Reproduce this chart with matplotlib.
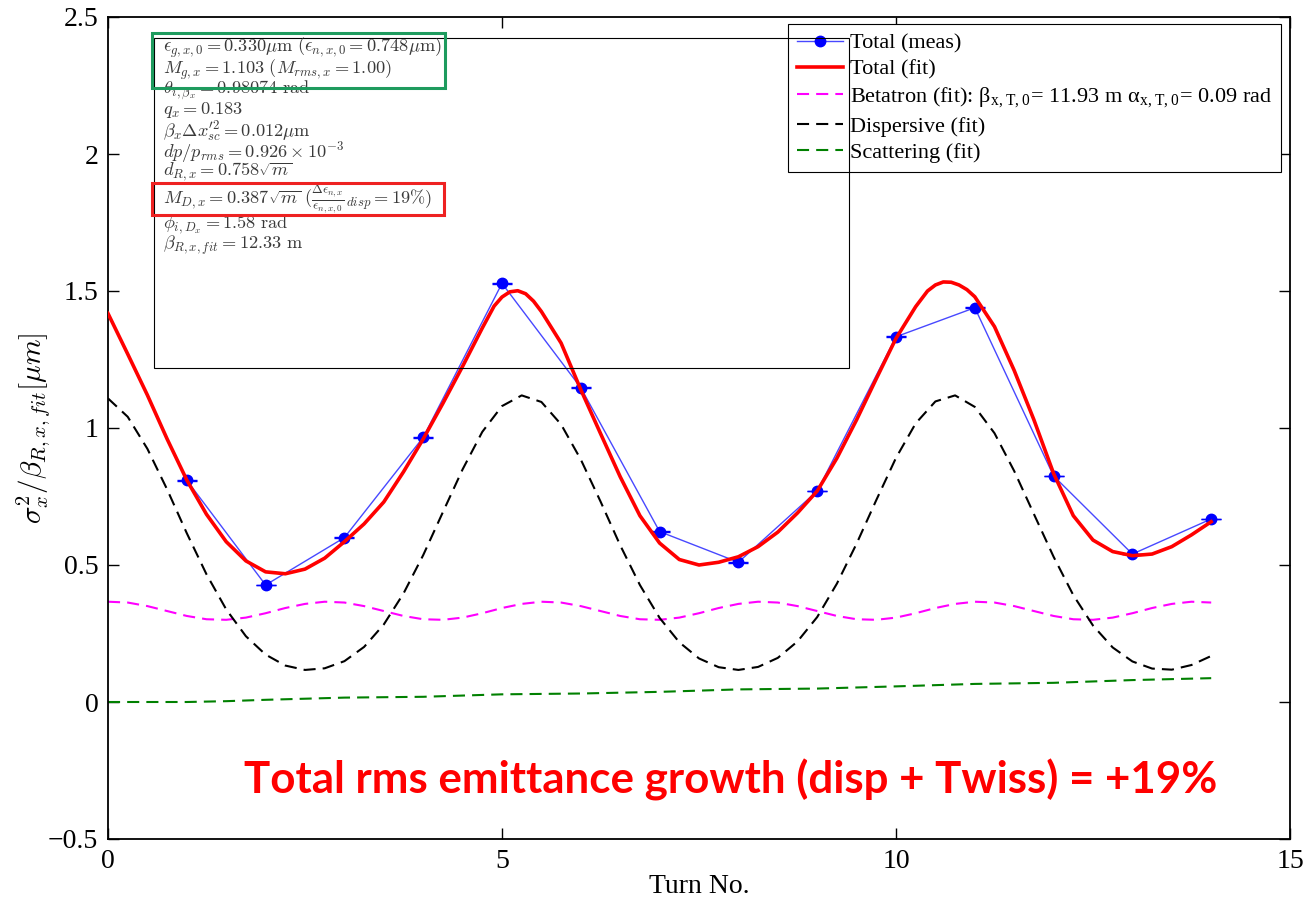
import matplotlib
matplotlib.use('Agg')
import matplotlib.pyplot as plt
import numpy as np
from matplotlib.patches import Rectangle

# measured points (turn, sigma^2/beta)
turn_meas = [1, 2, 3, 4, 5, 6, 7, 8, 9, 10, 11, 12, 13, 14]
sig_meas = [0.809, 0.427, 0.600, 0.966, 1.528, 1.147, 0.622, 0.510, 0.770,
            1.333, 1.439, 0.825, 0.540, 0.668]
err_meas = [0.0015, 0.0015, 0.0015, 0.0015, 0.0015, 0.0015, 0.0015, 0.0015,
            0.0015, 0.0015, 0.0015, 0.0015, 0.0015, 0.0015]

# total fit (denser around the extrema)
turn_total = [0, 0.25, 0.5, 0.75, 1.0, 1.25, 1.5, 1.75, 2.0, 2.25, 2.5, 2.75,
              3.0, 3.25, 3.5, 3.75, 4.0, 4.25, 4.5, 4.75, 4.9, 5.0, 5.1, 5.2,
              5.3, 5.4, 5.5, 5.75, 6.0, 6.25, 6.5, 6.75, 7.0, 7.25, 7.5, 7.75,
              8.0, 8.25, 8.5, 8.75, 9.0, 9.25, 9.5, 9.75, 10.0, 10.25, 10.4,
              10.5, 10.6, 10.7, 10.8, 10.9, 11.0, 11.25, 11.5, 11.75, 12.0,
              12.25, 12.5, 12.75, 13.0, 13.25, 13.5, 13.75, 14.0]
total_fit = [1.418, 1.27, 1.12, 0.96, 0.81, 0.685, 0.585, 0.515, 0.475, 0.468,
             0.485, 0.525, 0.585, 0.65, 0.73, 0.84, 0.96, 1.09, 1.225, 1.365,
             1.445, 1.478, 1.497, 1.501, 1.490, 1.463, 1.425, 1.31, 1.14, 0.98,
             0.822, 0.68, 0.58, 0.52, 0.50, 0.51, 0.53, 0.567, 0.62, 0.69,
             0.77, 0.89, 1.03, 1.18, 1.327, 1.443, 1.50, 1.522, 1.533, 1.532,
             1.522, 1.505, 1.479, 1.37, 1.21, 1.03, 0.834, 0.68, 0.591, 0.549,
             0.534, 0.540, 0.567, 0.61, 0.658]

# betatron and dispersive fits read every quarter turn, 0 .. 14
turn_fit = np.arange(0, 14.01, 0.25)
betatron_fit = [0.366, 0.363, 0.350, 0.332, 0.314, 0.302, 0.300, 0.308, 0.324, 0.343,
                0.358, 0.366, 0.363, 0.350, 0.332, 0.314, 0.302, 0.300, 0.308, 0.324,
                0.343, 0.358, 0.366, 0.363, 0.350, 0.332, 0.314, 0.302, 0.300, 0.308,
                0.324, 0.343, 0.358, 0.366, 0.363, 0.350, 0.332, 0.314, 0.302, 0.300,
                0.308, 0.324, 0.343, 0.358, 0.366, 0.363, 0.350, 0.332, 0.314, 0.302,
                0.300, 0.308, 0.324, 0.343, 0.358, 0.366, 0.363]
disp_fit = [1.108, 1.041, 0.924, 0.776, 0.616, 0.466, 0.338, 0.240, 0.173, 0.133,
            0.117, 0.123, 0.149, 0.201, 0.283, 0.396, 0.536, 0.693, 0.849, 0.986,
            1.080, 1.119, 1.095, 1.013, 0.885, 0.732, 0.572, 0.427, 0.307, 0.218,
            0.159, 0.127, 0.117, 0.128, 0.161, 0.221, 0.310, 0.432, 0.578, 0.737,
            0.891, 1.017, 1.097, 1.119, 1.077, 0.981, 0.843, 0.686, 0.530, 0.390,
            0.279, 0.199, 0.148, 0.122, 0.118, 0.135, 0.168]
turn_scat = [0, 1, 1.5, 2, 3, 4, 5, 6, 7, 8, 9, 10, 11, 12, 13, 14]
scat_fit = [0.0, 0.0, 0.003, 0.008, 0.016, 0.019, 0.028, 0.031, 0.037, 0.046,
            0.049, 0.057, 0.066, 0.070, 0.080, 0.087]

info_lines = [
    r'$\epsilon_{g,x,0} = 0.330\mu\mathrm{m}\ (\epsilon_{n,x,0} = 0.748\mu\mathrm{m})$',
    r'$M_{g,x} = 1.103\ (M_{rms,x} = 1.00)$',
    r'$\theta_{i,\beta_x} = 0.98074\ \mathrm{rad}$',
    r'$q_x = 0.183$',
    r'$\beta_x\Delta x_{sc}^{\prime 2} = 0.012\mu\mathrm{m}$',
    r'$dp/p_{rms} = 0.926\times10^{-3}$',
    r'$d_{R,x} = 0.758\sqrt{m}$',
    r'$M_{D,x} = 0.387\sqrt{m}\ ({\frac{\Delta\epsilon_{n,x}}{\epsilon_{n,x,0}}}_{disp} = 19\%)$',
    r'$\phi_{i,D_x} = 1.58\ \mathrm{rad}$',
    r'$\beta_{R,x,fit} = 12.33\ \mathrm{m}$',
]
info_y = [48, 70, 90, 110, 131, 152, 172, 199, 225, 245]

plt.rcParams['font.family'] = 'Liberation Serif'
plt.rcParams['mathtext.fontset'] = 'cm'

W, H = 1307, 898


def fx(px):
    return px / W


def fy(py):
    return 1 - py / H


fig = plt.figure(figsize=(W / 100, H / 100), dpi=100)
ax = fig.add_axes([fx(108), fy(839), (1290 - 108) / W, (839 - 17) / H])

ax.plot(turn_meas, sig_meas, '-o', color='#4848ff', lw=1, ms=7.5,
        mfc='blue', mec='blue', label='Total (meas)', zorder=3)
ax.errorbar(turn_meas, sig_meas, yerr=err_meas, fmt='none', ecolor='blue',
            elinewidth=1, capsize=7.5, capthick=1, zorder=3)
ax.plot(turn_total, total_fit, color='red', lw=2.6, label='Total (fit)',
        zorder=4, solid_joinstyle='round')
ax.plot(turn_fit, betatron_fit, color='magenta', lw=1.5, dashes=(5.8, 3.4),
        label=r'Betatron (fit): β$_{\mathregular{x,T,0}}$= 11.93 m α$_{\mathregular{x,T,0}}$= 0.09 rad')
ax.plot(turn_fit, disp_fit, color='black', lw=1.5, dashes=(5.8, 3.4),
        label='Dispersive (fit)')
ax.plot(turn_scat, scat_fit, color='#008000', lw=1.5, dashes=(5.8, 3.4),
        label='Scattering (fit)')

ax.set_xlim(0, 15)
ax.set_ylim(-0.5, 2.5)
ax.set_xticks([0, 5, 10, 15])
ax.set_xticklabels(['0', '5', '10', '15'])
ax.set_yticks([-0.5, 0, 0.5, 1, 1.5, 2, 2.5])
ax.set_yticklabels(['\u22120.5', '0', '0.5', '1', '1.5', '2', '2.5'])
ax.tick_params(direction='in', top=True, right=True, length=8, width=1,
               labelsize=20, pad=7)
for sp in ax.spines.values():
    sp.set_linewidth(1.3)

ax.set_xlabel('Turn No.', fontsize=20, labelpad=0)
ax.set_ylabel(r'$\sigma_x^2/\beta_{R,x,fit}[\mu m]$', fontsize=21, labelpad=-3)

leg = ax.legend(loc='upper right', bbox_to_anchor=(fx(1281), fy(24)),
                bbox_transform=fig.transFigure, borderaxespad=0, fancybox=False,
                edgecolor='black', framealpha=1,
                prop={'family': 'Liberation Serif', 'size': 16},
                handlelength=2.1, handletextpad=0.3, labelspacing=0.26,
                borderpad=0.4)
leg.get_frame().set_linewidth(0.8)

# annotation box with fit results
fig.add_artist(Rectangle((fx(154), fy(368)), (849 - 154) / W, (368 - 38) / H,
                         transform=fig.transFigure, fill=False, ec='black',
                         lw=0.8, zorder=5))
for s, yc in zip(info_lines, info_y):
    fig.text(fx(163), fy(yc), s, ha='left', va='center', fontsize=13.2,
             color='#3a3a3a', math_fontfamily='cm', zorder=6)
fig.add_artist(Rectangle((fx(152), fy(88)), (445 - 152) / W, (88 - 33) / H,
                         transform=fig.transFigure, fill=False, ec='#1e9b5e',
                         lw=2.2, zorder=7))
fig.add_artist(Rectangle((fx(152), fy(215)), (444 - 152) / W, (215 - 183) / H,
                         transform=fig.transFigure, fill=False, ec='#ee2222',
                         lw=2.2, zorder=7))

big = fig.text(fx(731), fy(780), 'Total rms emittance growth (disp + Twiss) = +19%',
               ha='center', va='center', color='#ff0000', fontweight='bold',
               family='Lato', fontsize=30, zorder=8)
fig.canvas.draw()
w = big.get_window_extent().width
big.set_fontsize(30 * 974 / w)

fig.savefig('out.png', dpi=100)
